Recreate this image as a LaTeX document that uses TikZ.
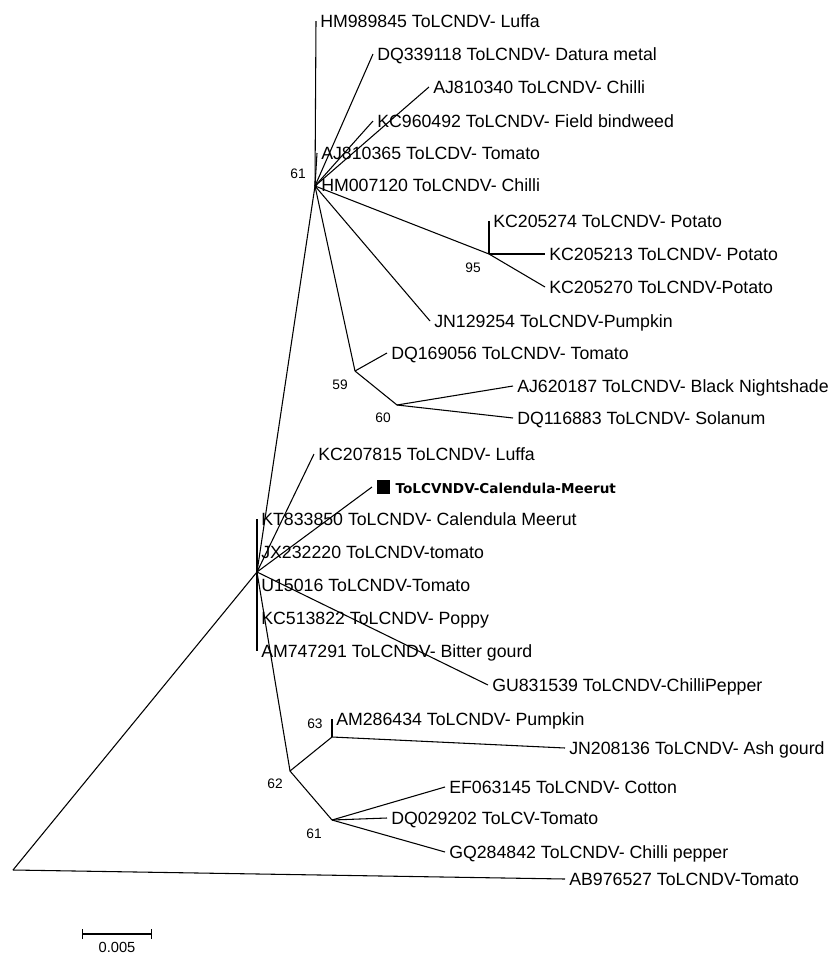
\documentclass[tikz,border=0pt]{standalone}
\usepackage{fontspec}
\setmainfont{Liberation Sans}
\newfontfamily\markfont{DejaVu Sans}
\usepackage{tikz}
\usetikzlibrary{positioning, arrows.meta}

\begin{document}
\begin{tikzpicture}[
    x=0.75pt, y=-0.75pt,
    branch/.style={draw, line width=0.8pt},
    taxon/.style={anchor=west, inner sep=3pt, text height=9.6pt, text depth=0pt, font=\fontsize{13.3}{15}\selectfont},
    boot/.style={inner sep=0pt, font=\fontsize{10.3}{12}\selectfont},
    marker/.style={rectangle, fill=black, minimum size=10pt, inner sep=0pt, outer sep=3.5pt},
    scalebar/.style={{Bar[width=7.5pt]}-{Bar[width=7.5pt]}, line width=0.8pt}
]
\useasboundingbox (0,0) rectangle (833,954);

\coordinate (nR) at (13,870);
\coordinate (nC) at (257,572);
\coordinate (n61) at (315,186);
\coordinate (n95) at (489,254);
\coordinate (n59) at (355,371);
\coordinate (n60) at (397,405);
\coordinate (n62) at (290,771);
\coordinate (n63) at (332,737);
\coordinate (n61b) at (332,820);

\node[taxon] (hm989845) at (316,21) {HM989845 ToLCNDV- Luffa};
\node[taxon] (dq339118) at (373,54) {DQ339118 ToLCNDV- Datura metal};
\node[taxon] (aj810340) at (429,87) {AJ810340 ToLCNDV- Chilli};
\node[taxon] (kc960492) at (373,121) {KC960492 ToLCNDV- Field bindweed};
\node[taxon] (aj810365) at (317,153) {AJ810365 ToLCDV- Tomato};
\node[taxon] (hm007120) at (317,185) {HM007120 ToLCNDV- Chilli};
\node[taxon] (kc205274) at (489,221) {KC205274 ToLCNDV- Potato};
\node[taxon] (kc205213) at (545,254) {KC205213 ToLCNDV- Potato};
\node[taxon] (kc205270) at (545,287) {KC205270 ToLCNDV-Potato};
\node[taxon] (jn129254) at (430,321) {JN129254 ToLCNDV-Pumpkin};
\node[taxon] (dq169056) at (387,353) {DQ169056 ToLCNDV- Tomato};
\node[taxon] (aj620187) at (513,386) {AJ620187 ToLCNDV- Black Nightshade};
\node[taxon] (dq116883) at (513,418) {DQ116883 ToLCNDV- Solanum};

\node[taxon] (kc207815) at (314,454) {KC207815 ToLCNDV- Luffa};
\node[marker, anchor=west] (calsq) at (372,487) {};
\node[taxon, right=-2.5pt of calsq, font=\markfont\bfseries\fontsize{10.2}{12}\selectfont] (calendula) {ToLCVNDV-Calendula-Meerut};
\node[taxon] (kt833850) at (257,519) {KT833850 ToLCNDV- Calendula Meerut};
\node[taxon] (jx232220) at (257,552) {JX232220 ToLCNDV-tomato};
\node[taxon] (u15016) at (257,585) {U15016 ToLCNDV-Tomato};
\node[taxon] (kc513822) at (257,618) {KC513822 ToLCNDV- Poppy};
\node[taxon] (am747291) at (257,651) {AM747291 ToLCNDV- Bitter gourd};
\node[taxon] (gu831539) at (488,685) {GU831539 ToLCNDV-ChilliPepper};
\node[taxon] (am286434) at (332,719) {AM286434 ToLCNDV- Pumpkin};
\node[taxon] (jn208136) at (565,748) {JN208136 ToLCNDV- Ash gourd};
\node[taxon] (ef063145) at (445,787) {EF063145 ToLCNDV- Cotton};
\node[taxon] (dq029202) at (387,818) {DQ029202 ToLCV-Tomato};
\node[taxon] (gq284842) at (445,852) {GQ284842 ToLCNDV- Chilli pepper};
\node[taxon] (ab976527) at (565,879) {AB976527 ToLCNDV-Tomato};

\node[boot] (b61a) at (298,174) {61};
\node[boot] (b95) at (473,268) {95};
\node[boot] (b59) at (340,385) {59};
\node[boot] (b60) at (383,418) {60};
\node[boot] (b63) at (315,724) {63};
\node[boot] (b62) at (275,784) {62};
\node[boot] (b61b) at (314,834) {61};

\draw[branch] (nR) -- (nC);
\draw[branch] (nR) -- (ab976527.west);

\draw[branch] (nC) -- (n61);
\draw[branch] (nC) -- (kc207815.west);
\draw[branch] (nC) -- (calsq.west);
\draw[branch] (nC) -- (kt833850.west);
\draw[branch] (nC) -- (jx232220.west);
\draw[branch] (nC) -- (u15016.west);
\draw[branch] (nC) -- (kc513822.west);
\draw[branch] (nC) -- (am747291.west);
\draw[branch] (nC) -- (gu831539.west);
\draw[branch] (nC) -- (n62);

\draw[branch] (n61) -- (hm989845.west);
\draw[branch] (n61) -- (dq339118.west);
\draw[branch] (n61) -- (aj810340.west);
\draw[branch] (n61) -- (kc960492.west);
\draw[branch] (n61) -- (aj810365.west);
\draw[branch] (n61) -- (hm007120.west);
\draw[branch] (n61) -- (n95);
\draw[branch] (n61) -- (jn129254.west);
\draw[branch] (n61) -- (n59);

\draw[branch] (n95) -- (kc205274.west);
\draw[branch] (n95) -- (kc205213.west);
\draw[branch] (n95) -- (kc205270.west);

\draw[branch] (n59) -- (dq169056.west);
\draw[branch] (n59) -- (n60);
\draw[branch] (n60) -- (aj620187.west);
\draw[branch] (n60) -- (dq116883.west);

\draw[branch] (n62) -- (n63);
\draw[branch] (n62) -- (n61b);
\draw[branch] (n63) -- (am286434.west);
\draw[branch] (n63) -- (jn208136.west);
\draw[branch] (n61b) -- (ef063145.west);
\draw[branch] (n61b) -- (dq029202.west);
\draw[branch] (n61b) -- (gq284842.west);

\coordinate (sbl) at (82,934);
\coordinate (sbr) at (152,934);
\draw[scalebar] (sbl) -- (sbr);
\node[boot, font=\fontsize{11}{13}\selectfont] (sblabel) at (117,947) {0.005};

\end{tikzpicture}
\end{document}
